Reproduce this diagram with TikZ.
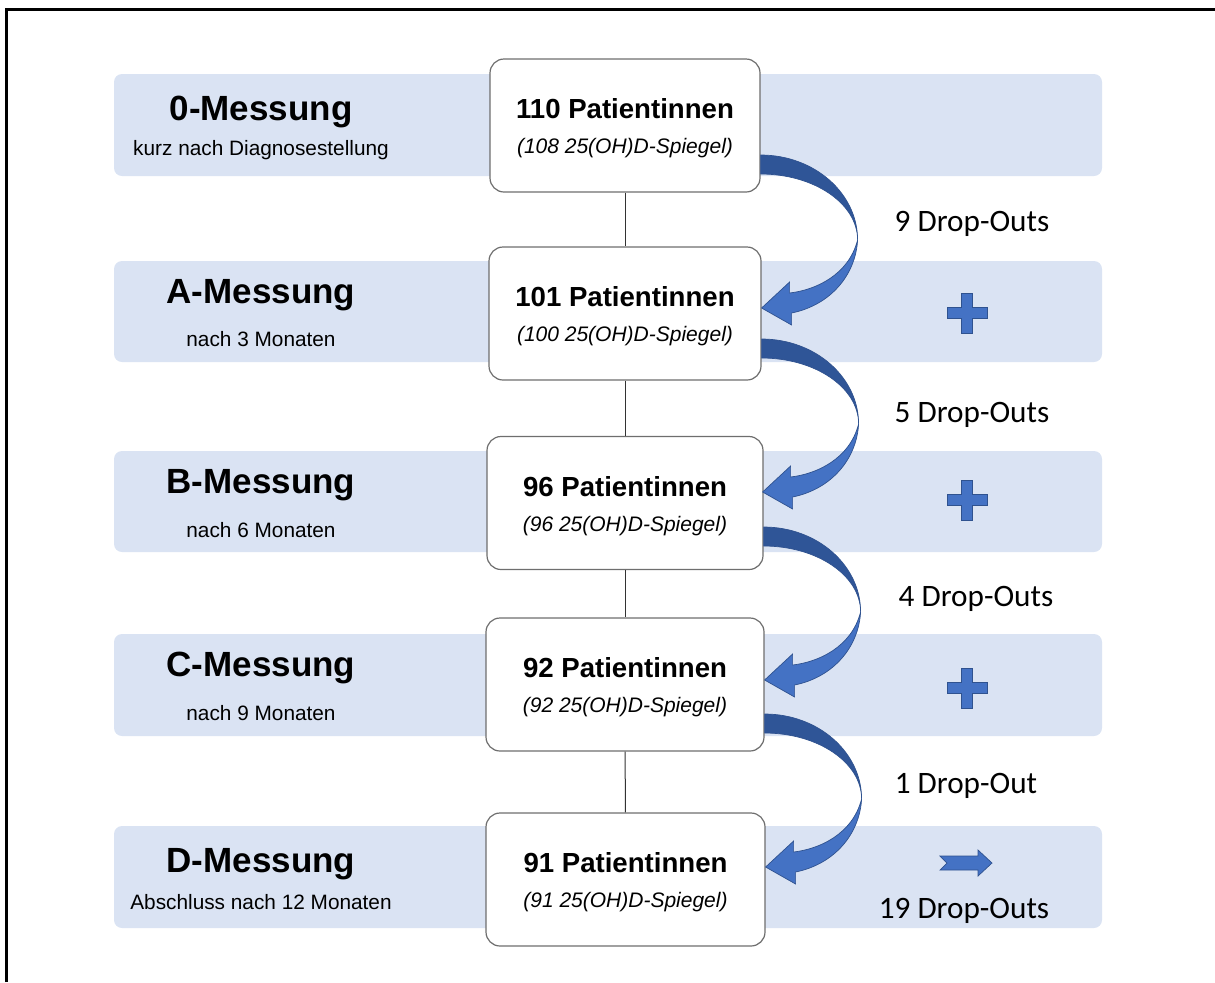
\documentclass[tikz,border=0pt]{standalone}
\usepackage{fontspec}
\setmainfont{Liberation Sans}
\newfontfamily\calibri{Carlito}
\usetikzlibrary{positioning, calc}

\definecolor{bandblue}{HTML}{DAE3F3}
\definecolor{boxgray}{HTML}{6E6E6E}
\definecolor{arrowdark}{HTML}{2F5597}
\definecolor{arrowlight}{HTML}{4472C4}
\definecolor{arrowline}{HTML}{2F528F}

\begin{document}
\begin{tikzpicture}[x=0.5pt, y=-0.5pt,
    band/.style={fill=bandblue, rounded corners=4pt},
    stage/.style={draw=boxgray, fill=white, line width=0.6pt, rounded corners=7pt,
        minimum height=66.5pt, inner sep=0pt},
    count/.style={align=center, inner sep=0pt, yshift=-1.5pt,
        font=\fontsize{13.8}{17.6}\selectfont},
    title/.style={font=\fontsize{17.5}{20}\selectfont\bfseries, inner sep=0pt, yshift=-1pt},
    subtitle/.style={font=\fontsize{10.4}{12}\selectfont, inner sep=0pt, yshift=-1.5pt},
    dropnote/.style={font=\calibri\fontsize{15.6}{18}\selectfont, inner sep=0pt, yshift=-1.5pt},
    link/.style={draw=black!80, line width=0.5pt},
    bluefill/.style={fill=arrowlight, draw=arrowline, line width=0.35pt}]
    \useasboundingbox (0,0) rectangle (1215,982);
    \draw[line width=1.1pt] (6.5,982) -- (6.5,9.5) -- (1215,9.5);

    % background rows
    \foreach \ytop/\ybot in {74/176, 261/362, 451/552, 634/736, 826/928}
        \fill[band] (114,\ytop) rectangle (1102,\ybot);

    % stage labels
    \node[title] (t0) at (261,110) {0-Messung};
    \node[subtitle] (s0) at (261,147) {kurz nach Diagnosestellung};
    \node[title] (tA) at (261,293) {A-Messung};
    \node[subtitle] (sA) at (261,336) {nach 3 Monaten};
    \node[title] (tB) at (261,483) {B-Messung};
    \node[subtitle] (sB) at (261,527) {nach 6 Monaten};
    \node[title] (tC) at (261,666) {C-Messung};
    \node[subtitle] (sC) at (261,710) {nach 9 Monaten};
    \node[title] (tD) at (261,862) {D-Messung};
    \node[subtitle] (sD) at (261,899) {Abschluss nach 12 Monaten};

    % patient boxes
    \node[stage, minimum width=135pt] (p0) at (625,125.5) {};
    \node[stage, minimum width=136pt] (pA) at (625,313.5) {};
    \node[stage, minimum width=138pt] (pB) at (625,503) {};
    \node[stage, minimum width=139pt] (pC) at (625,684.5) {};
    \node[stage, minimum width=139.5pt] (pD) at (625.5,879.5) {};

    \node[count] (c0) at (p0) {\bfseries 110 Patientinnen\\{\fontsize{10.5}{12}\selectfont\itshape (108 25(OH)D-Spiegel)}};
    \node[count] (cA) at (pA) {\bfseries 101 Patientinnen\\{\fontsize{10.5}{12}\selectfont\itshape (100 25(OH)D-Spiegel)}};
    \node[count] (cB) at (pB) {\bfseries 96 Patientinnen\\{\fontsize{10.5}{12}\selectfont\itshape (96 25(OH)D-Spiegel)}};
    \node[count] (cC) at (pC) {\bfseries 92 Patientinnen\\{\fontsize{10.5}{12}\selectfont\itshape (92 25(OH)D-Spiegel)}};
    \node[count] (cD) at (pD) {\bfseries 91 Patientinnen\\{\fontsize{10.5}{12}\selectfont\itshape (91 25(OH)D-Spiegel)}};

    \draw[link] (p0) -- (pA);
    \draw[link] (pA) -- (pB);
    \draw[link] (pB) -- (pC);
    \draw[link] (pC) -- (pD);

    % curved drop-out arrows
    \foreach \src/\ytail in {p0/155, pA/339, pB/527, pC/714} {
        \begin{scope}[shift={(\src.east |- 0,\ytail)}]
            \filldraw[bluefill, fill=arrowdark] (0,0) .. controls (53.6,0) and (97,38.1) .. (97,85)
                .. controls (97,48.6) and (53.6,19) .. (0,19) -- cycle;
            \filldraw[bluefill] (97,85) .. controls (95,120) and (70,150) .. (31,158)
                -- (31,170) -- (1,153) -- (29,127) -- (29,138)
                .. controls (55,135) and (88,120) .. (97,85) -- cycle;
        \end{scope}
    }

    \node[dropnote] (d0) at (972,221) {9 Drop-Outs};
    \node[dropnote] (dA) at (972,412) {5 Drop-Outs};
    \node[dropnote] (dB) at (976,596) {4 Drop-Outs};
    \node[dropnote] (dC) at (966,783) {1 Drop-Out};
    \node[dropnote] (dsum) at (964,908) {19 Drop-Outs};

    % plus signs and total arrow
    \foreach \y in {313,500,688}
        \filldraw[bluefill] (967,\y) ++(-5.5,-20) -- ++(11,0) -- ++(0,14.5) -- ++(14.5,0)
            -- ++(0,11) -- ++(-14.5,0) -- ++(0,14.5) -- ++(-11,0) -- ++(0,-14.5)
            -- ++(-14.5,0) -- ++(0,-11) -- ++(14.5,0) -- cycle;
    \filldraw[bluefill] (940,856) -- (978,856) -- (978,850) -- (992,863) -- (978,876)
        -- (978,870) -- (940,870) -- (947,863) -- cycle;
\end{tikzpicture}
\end{document}
